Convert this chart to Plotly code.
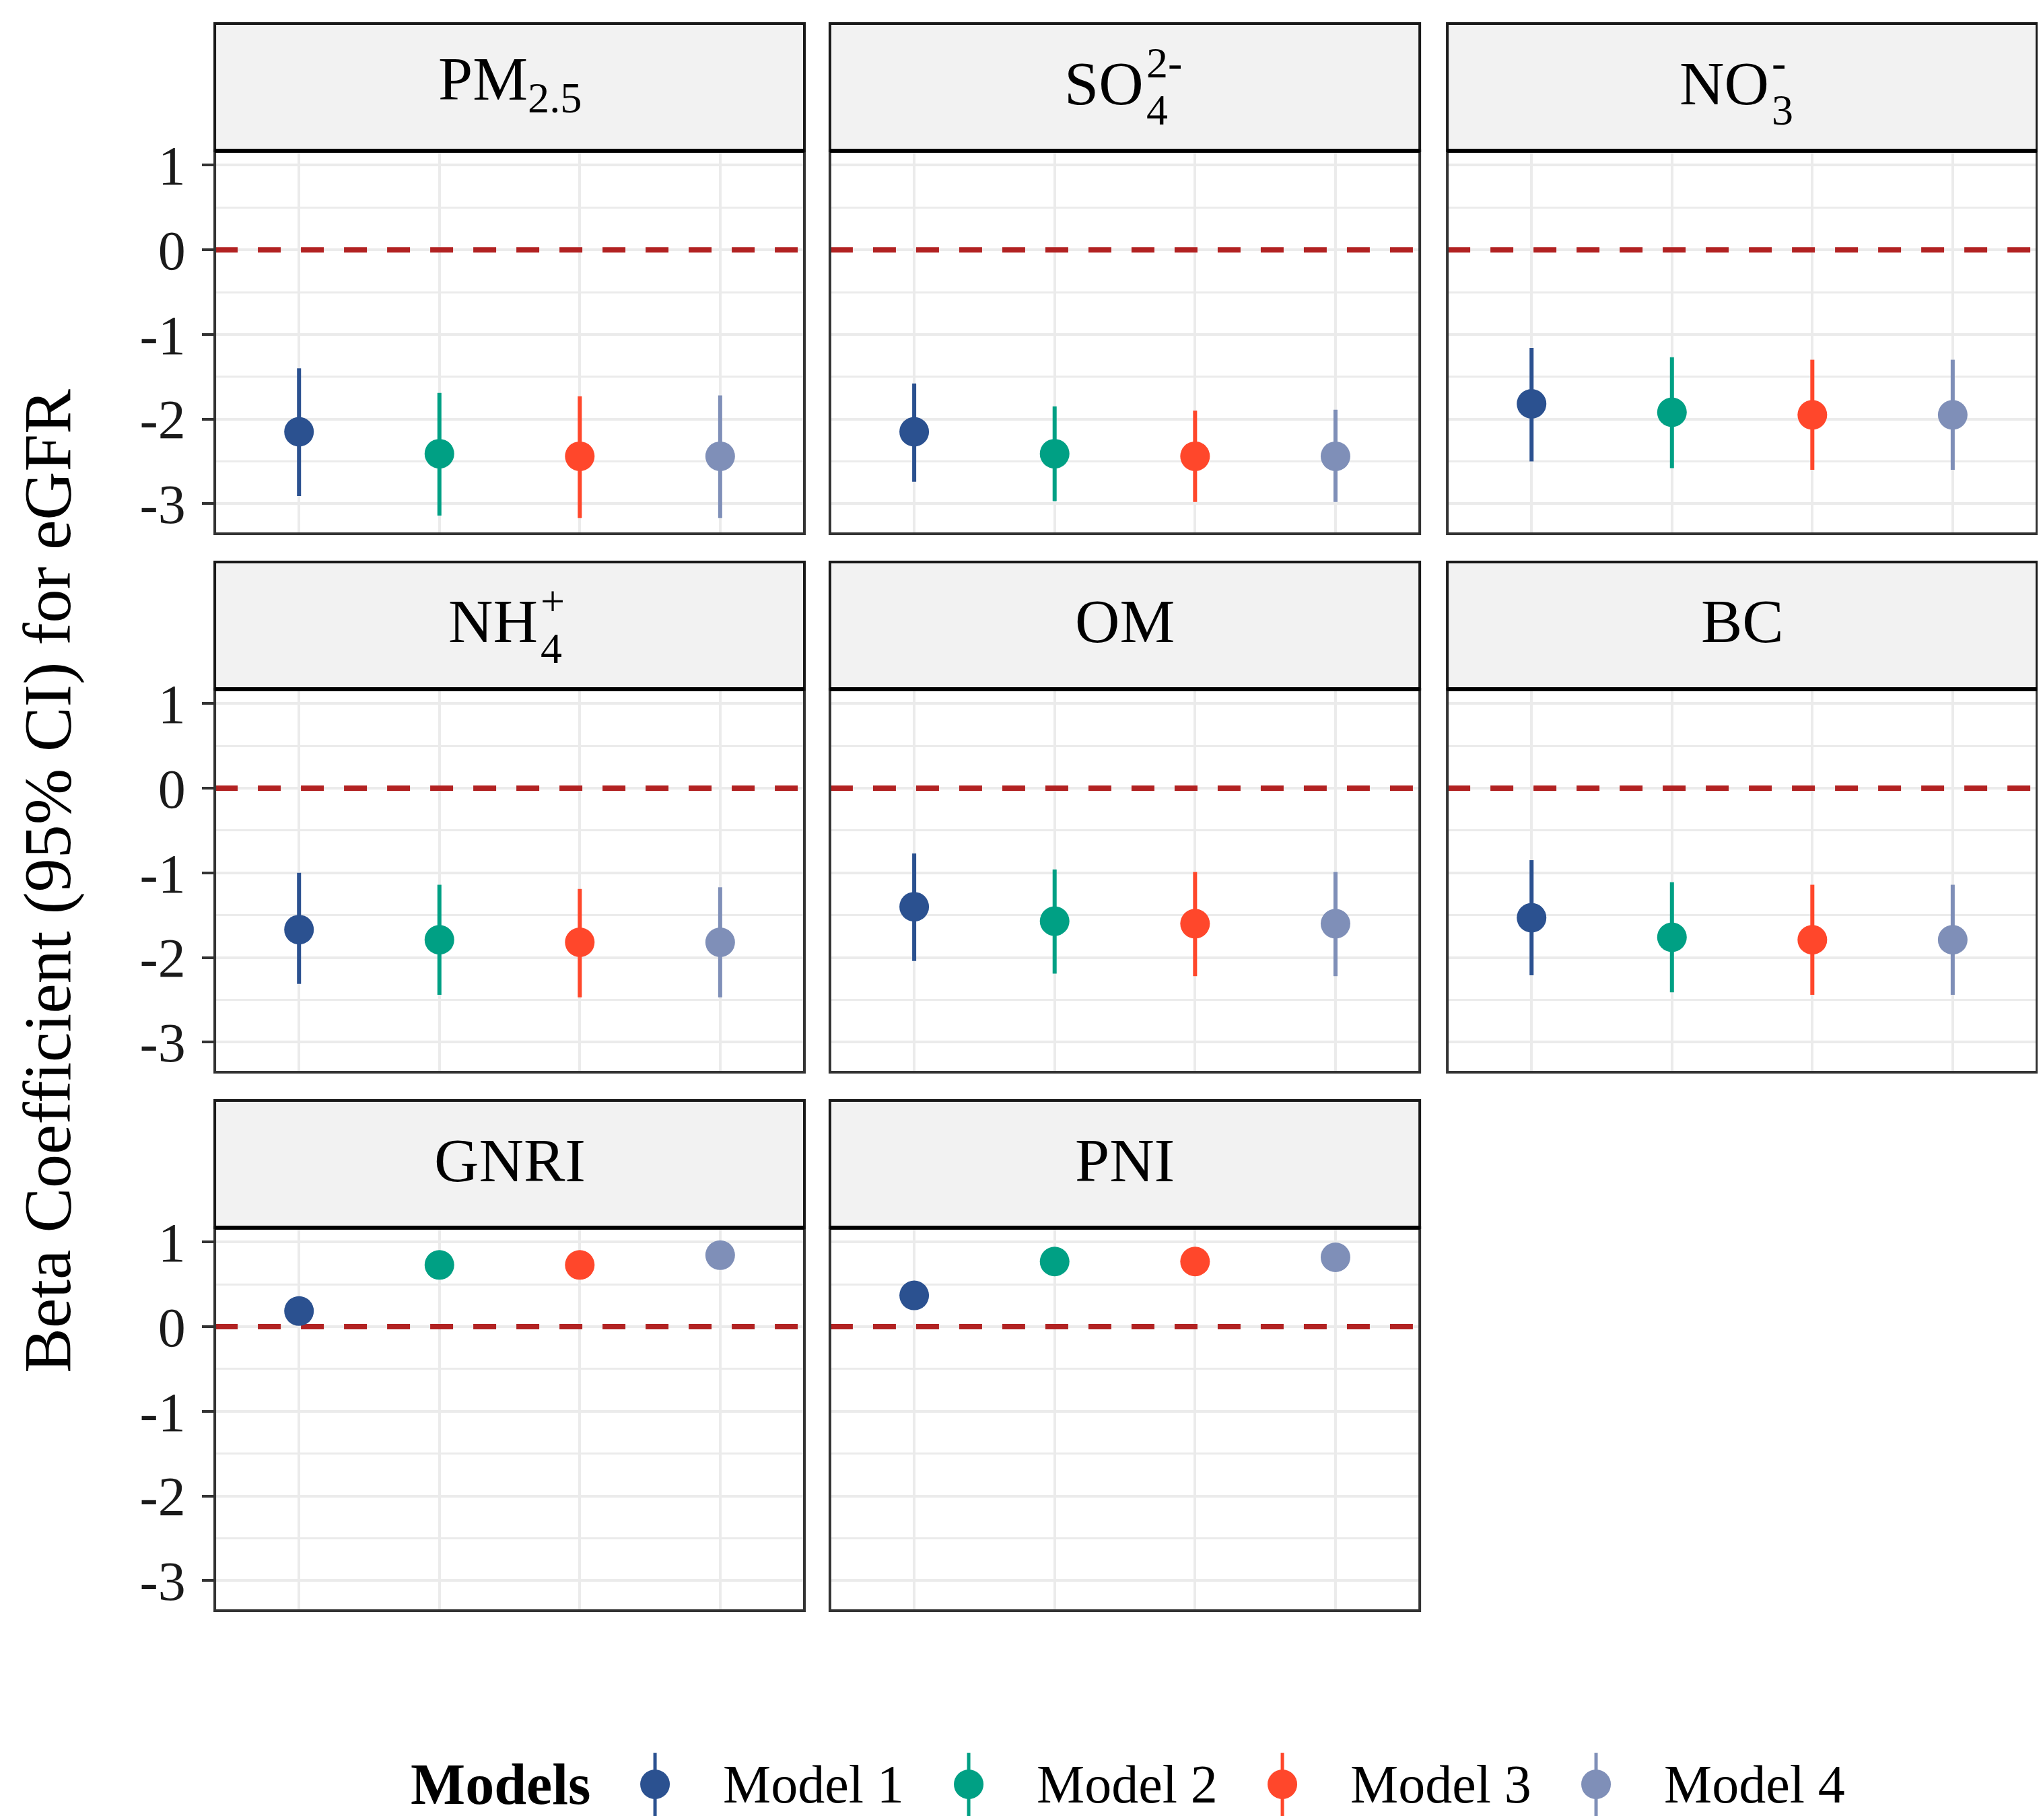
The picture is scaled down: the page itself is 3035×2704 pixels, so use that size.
import plotly.graph_objects as go

# ---------------- data ----------------
models = ["Model 1", "Model 2", "Model 3", "Model 4"]
panels = ["PM2.5", "SO4", "NO3", "NH4", "OM", "BC", "GNRI", "PNI"]

# beta estimates per model, one value per panel (order of `panels`)
m1_beta = [-2.15, -2.15, -1.82, -1.67, -1.40, -1.53, 0.185, 0.37]
m2_beta = [-2.41, -2.41, -1.92, -1.79, -1.57, -1.76, 0.73, 0.77]
m3_beta = [-2.44, -2.44, -1.95, -1.82, -1.60, -1.79, 0.73, 0.77]
m4_beta = [-2.44, -2.44, -1.95, -1.82, -1.60, -1.79, 0.845, 0.82]

# lower 95% CI
m1_low = [-2.91, -2.74, -2.50, -2.31, -2.04, -2.21, 0.15, 0.34]
m2_low = [-3.14, -2.97, -2.58, -2.44, -2.19, -2.41, 0.70, 0.74]
m3_low = [-3.17, -2.98, -2.60, -2.47, -2.22, -2.44, 0.70, 0.74]
m4_low = [-3.17, -2.98, -2.60, -2.47, -2.22, -2.44, 0.81, 0.79]

# upper 95% CI
m1_high = [-1.40, -1.58, -1.16, -1.00, -0.77, -0.85, 0.22, 0.40]
m2_high = [-1.69, -1.85, -1.27, -1.14, -0.96, -1.11, 0.76, 0.80]
m3_high = [-1.73, -1.90, -1.30, -1.19, -0.99, -1.14, 0.76, 0.80]
m4_high = [-1.72, -1.89, -1.30, -1.17, -0.99, -1.14, 0.88, 0.85]

reference_value = 0
y_ticks = [1, 0, -1, -2, -3]
y_tick_text = ["1", "0", "-1", "-2", "-3"]

# strip labels: (base, subscript, superscript)
strip_base = ["PM", "SO", "NO", "NH", "OM", "BC", "GNRI", "PNI"]
strip_sub = ["2.5", "4", "3", "4", None, None, None, None]
strip_sup = [None, "2-", "-", "+", None, None, None, None]

# ---------------- style ----------------
colors = ["#2B5190", "#00A084", "#FF472B", "#7F8FB8"]
FONT = "Liberation Serif"
W, H = 3035, 2704
col_dom = [(0.1025, 0.3911), (0.4036, 0.6923), (0.7058, 0.9944)]
row_dom = [(0.7097, 0.9201), (0.4138, 0.6243), (0.1180, 0.3284)]
strip_top = [0.9900, 0.6942, 0.3983]
y_range = [-3.355, 1.17]
x_range = [0.4, 4.6]
script_shift = {"SO": 30, "NO": 42, "NH": 44}

betas = [m1_beta, m2_beta, m3_beta, m4_beta]
lows = [m1_low, m2_low, m3_low, m4_low]
highs = [m1_high, m2_high, m3_high, m4_high]

fig = go.Figure()
layout = dict(
    template="none",
    width=W, height=H,
    margin=dict(l=0, r=0, t=0, b=0, pad=0, autoexpand=False),
    paper_bgcolor="white", plot_bgcolor="white",
    showlegend=False,
    font=dict(family=FONT, color="black"),
)
shapes = []
annotations = []

for p, name in enumerate(panels):
    r, c = divmod(p, 3)
    idx = p + 1
    xa = "x" if idx == 1 else f"x{idx}"
    ya = "y" if idx == 1 else f"y{idx}"
    first_col = (c == 0)
    layout["xaxis" if idx == 1 else f"xaxis{idx}"] = dict(
        domain=list(col_dom[c]), range=x_range, anchor=ya,
        tickvals=[1, 2, 3, 4], showticklabels=False, ticks="",
        showgrid=True, gridcolor="#EBEBEB", gridwidth=4,
        zeroline=False, showline=False, fixedrange=True, automargin=False,
    )
    layout["yaxis" if idx == 1 else f"yaxis{idx}"] = dict(
        domain=list(row_dom[r]), range=y_range, anchor=xa,
        tickvals=y_ticks, ticktext=y_tick_text,
        showticklabels=first_col,
        tickfont=dict(family=FONT, size=82, color="#1a1a1a"),
        ticks="outside" if first_col else "", ticklen=18, tickwidth=4,
        tickcolor="#333333", ticklabelstandoff=8,
        showgrid=True, gridcolor="#EBEBEB", gridwidth=4,
        minor=dict(tickvals=[0.5, -0.5, -1.5, -2.5], showgrid=True,
                   gridcolor="#EBEBEB", gridwidth=3, ticks=""),
        zeroline=False, showline=False, fixedrange=True, automargin=False,
    )
    # zero reference line (drawn as a trace under the points)
    fig.add_trace(go.Scatter(
        x=x_range, y=[reference_value, reference_value], xaxis=xa, yaxis=ya,
        mode="lines", line=dict(color="#B22222", width=8, dash="34px,30px"),
        hoverinfo="skip",
    ))
    # panel border
    shapes.append(dict(type="rect", xref="paper", yref="paper",
                       x0=col_dom[c][0], x1=col_dom[c][1],
                       y0=row_dom[r][0], y1=row_dom[r][1],
                       line=dict(color="#333333", width=4)))
    # strip
    shapes.append(dict(type="rect", xref="paper", yref="paper",
                       x0=col_dom[c][0], x1=col_dom[c][1],
                       y0=row_dom[r][1], y1=strip_top[r],
                       fillcolor="#F2F2F2", line=dict(color="#1a1a1a", width=4)))
    shapes.append(dict(type="line", xref="paper", yref="paper",
                       x0=col_dom[c][0], x1=col_dom[c][1],
                       y0=row_dom[r][1], y1=row_dom[r][1],
                       line=dict(color="black", width=6)))
    cx = (col_dom[c][0] + col_dom[c][1]) / 2
    cy = (row_dom[r][1] + strip_top[r]) / 2
    base, sub, sup = strip_base[p], strip_sub[p], strip_sup[p]
    if sup is None:
        txt = base + (f"<sub>{sub}</sub>" if sub else "")
        annotations.append(dict(text=txt, x=cx, y=cy, xref="paper", yref="paper",
                                xanchor="center", yanchor="middle", yshift=6,
                                showarrow=False, font=dict(family=FONT, size=92)))
    else:
        sh = script_shift[base]
        annotations.append(dict(text=base, x=cx, y=cy, xref="paper", yref="paper",
                                xanchor="right", yanchor="middle", xshift=sh, yshift=6,
                                showarrow=False, font=dict(family=FONT, size=92)))
        annotations.append(dict(text=sup, x=cx, y=cy, xref="paper", yref="paper",
                                xanchor="left", yanchor="middle", xshift=sh, yshift=36,
                                showarrow=False, font=dict(family=FONT, size=64)))
        annotations.append(dict(text=sub, x=cx, y=cy, xref="paper", yref="paper",
                                xanchor="left", yanchor="middle", xshift=sh, yshift=-34,
                                showarrow=False, font=dict(family=FONT, size=64)))

    for m in range(len(models)):
        b = betas[m][p]
        fig.add_trace(go.Scatter(
            x=[m + 1], y=[b], xaxis=xa, yaxis=ya, mode="markers",
            marker=dict(color=colors[m], size=44, line=dict(width=0)),
            error_y=dict(type="data", symmetric=False,
                         array=[highs[m][p] - b], arrayminus=[b - lows[m][p]],
                         color=colors[m], thickness=6, width=0),
            name=models[m], hoverinfo="skip",
        ))

# ---------------- manual legend (own axis) ----------------
layout["xaxis9"] = dict(domain=[0, 1], range=[-2.071, 4.442], anchor="y9",
                        visible=False, fixedrange=True, automargin=False)
layout["yaxis9"] = dict(domain=[0.0, 0.0451], range=[-1.3, 1.3], anchor="x9",
                        visible=False, fixedrange=True, automargin=False)
for m, mname in enumerate(models):
    fig.add_trace(go.Scatter(
        x=[m], y=[0], xaxis="x9", yaxis="y9", mode="markers",
        marker=dict(color=colors[m], size=44),
        error_y=dict(type="data", array=[1], color=colors[m], thickness=5, width=0),
        hoverinfo="skip",
    ))
    annotations.append(dict(text=mname, x=m + 0.2125, y=0, xref="x9", yref="y9",
                            xanchor="left", yanchor="middle", showarrow=False,
                            font=dict(family=FONT, size=80)))
annotations.append(dict(text="<b>Models</b>", x=-0.2, y=0, xref="x9", yref="y9",
                        xanchor="right", yanchor="middle", showarrow=False,
                        font=dict(family=FONT, size=86)))

# y-axis title
annotations.append(dict(text="Beta Coefficient (95% CI) for eGFR", x=0.0205, y=0.519,
                        xref="paper", yref="paper", textangle=-90,
                        xanchor="center", yanchor="middle", showarrow=False,
                        font=dict(family=FONT, size=100)))

layout["shapes"] = shapes
layout["annotations"] = annotations
fig.update_layout(**layout)
fig.write_html("out.html")
